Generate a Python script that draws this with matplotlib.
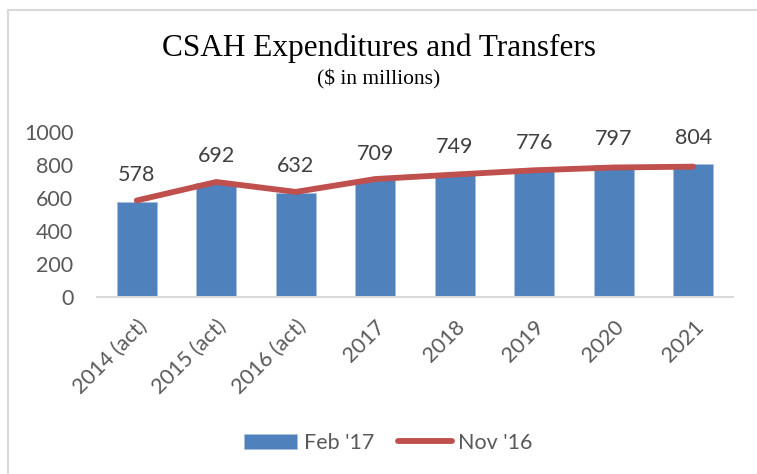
import matplotlib.pyplot as plt
import matplotlib.patches as mpatches

categories = ["2014 (act)", "2015 (act)", "2016 (act)", "2017", "2018", "2019", "2020", "2021"]
feb17 = [578, 692, 632, 709, 749, 776, 797, 804]
nov16 = [585, 697, 637, 715, 742, 768, 785, 790]
yticks = [0, 200, 400, 600, 800, 1000]

BAR = "#4f81bd"
LINE = "#c0504d"
TXT = "#595959"
FONT = "Lato"
FS = 15.5

fig = plt.figure(figsize=(7.57, 4.74), dpi=100)
fig.patch.set_facecolor("white")

# chart border
fig.patches.append(mpatches.Rectangle((8 / 757, -0.1), 1.2, 1 - 10 / 474 + 0.1,
                                      transform=fig.transFigure, fill=False,
                                      edgecolor="#d9d9d9", linewidth=1.5))

ax = fig.add_axes([97 / 757, 1 - 297 / 474, (733 - 97) / 757, 165 / 474])
x = list(range(len(categories)))
bars = ax.bar(x, feb17, width=0.5, color=BAR, edgecolor="#a7bfde", linewidth=0.6,
              label="Feb '17", zorder=2)
line, = ax.plot(x, nov16, color=LINE, linewidth=4.2, solid_capstyle="round",
                label="Nov '16", zorder=3)

for xi, v in zip(x, feb17):
    ax.annotate(str(v), (xi, v), xytext=(0, 19), textcoords="offset points",
                ha="center", va="center", fontsize=FS, color="#404040", family=FONT)

ax.set_xlim(-0.5, len(categories) - 0.5)
ax.set_ylim(0, 1000)
ax.set_yticks(yticks)
ax.set_yticklabels([str(t) for t in yticks], fontsize=FS, color=TXT, family=FONT)
ax.set_xticks(x)
ax.set_xticklabels(categories, rotation=45, ha="right", rotation_mode="anchor",
                   fontsize=FS, color=TXT, family=FONT)
ax.tick_params(axis="y", length=0, pad=17)
ax.tick_params(axis="x", length=0, pad=14)
for s in ["top", "right", "left"]:
    ax.spines[s].set_visible(False)
ax.spines["bottom"].set_color("#d9d9d9")
ax.spines["bottom"].set_linewidth(1.5)

fig.text(0.5, 1 - 48 / 474, "CSAH Expenditures and Transfers", ha="center", va="center",
         fontsize=22.5, family="Liberation Serif", color="black")
fig.text(0.5, 1 - 79 / 474, "($ in millions)", ha="center", va="center",
         fontsize=15.5, family="Liberation Serif", color="black")

leg = fig.legend(handles=[bars, line], loc="center", bbox_to_anchor=(388 / 757, 1 - 443 / 474),
                 ncol=2, frameon=False, prop={"family": FONT, "size": FS},
                 handlelength=2.5, handleheight=0.7, columnspacing=1.1, handletextpad=0.3)
for t in leg.get_texts():
    t.set_color(TXT)

fig.savefig("out.png", dpi=100, facecolor="white")
